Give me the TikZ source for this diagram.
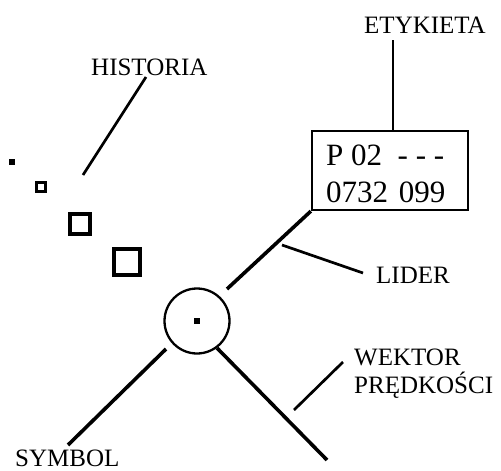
\documentclass[tikz,border=0pt]{standalone}
\usepackage{fontspec}
\setmainfont{Liberation Serif}
\begin{document}
\begin{tikzpicture}[x=1pt,y=-1pt,
  lbl/.style={font=\fontsize{25}{28}\selectfont, inner sep=0pt, anchor=base west},
  boxtxt/.style={font=\fontsize{31}{34}\selectfont, inner sep=0pt, anchor=base west},
  conn/.style={line width=3.6pt},
  ptr/.style={line width=2.7pt},
  hist/.style={draw, line width=3.2pt, inner sep=0pt, rectangle}]
\useasboundingbox (0,0) rectangle (501,471);
% labels
\node[lbl] (ety) at (364,33) {ETYKIETA};
\node[lbl] (his) at (91,75) {HISTORIA};
\node[lbl] (sym) at (15,466) {SYMBOL};
\node[lbl] (lid) at (376,283) {LIDER};
\node[lbl] (wek) at (354,365) {WEKTOR};
\node[lbl] (pre) at (354,393) {PRĘDKOŚCI};
% label box
\node[draw, line width=2.3pt, rectangle, minimum width=156pt, minimum height=79pt, inner sep=0pt] (box) at (390,170.5) {};
\node[boxtxt] (t1) at (326,165) {P 02\ \ - - -};
\node[boxtxt] (t2) at (326,202) {0732\hspace{3pt} 099};
% symbol
\node[draw, circle, line width=2.3pt, minimum size=65pt, inner sep=0pt] (circ) at (197,321) {};
\node[fill, rectangle, minimum size=6.5pt, inner sep=0pt] (dot) at (197,321) {};
% history squares
\node[fill, rectangle, minimum size=6.5pt, inner sep=0pt] (h1) at (12,162) {};
\node[hist, minimum size=9.5pt] (h2) at (41,187) {};
\node[hist, minimum size=20pt] (h3) at (80,224) {};
\node[hist, minimum size=26pt] (h4) at (127,262) {};
% coordinates
\coordinate (etyE) at (393,40);
\coordinate (boxT) at (393,131);
\coordinate (hisA) at (146,77);
\coordinate (hisB) at (83,175);
\coordinate (ldE) at (227,289);
\coordinate (lidA) at (282,245);
\coordinate (lidB) at (363,273);
\coordinate (velA) at (217,348);
\coordinate (velB) at (327,460);
\coordinate (symA) at (166,349);
\coordinate (symB) at (68,445);
\coordinate (wekA) at (343,362);
\coordinate (wekB) at (294,410);
% connectors
\draw[ptr] (etyE) -- (boxT);
\draw[ptr] (hisA) -- (hisB);
\draw[conn] (box.south west) -- (ldE);
\draw[ptr] (lidA) -- (lidB);
\draw[conn] (velA) -- (velB);
\draw[conn] (symA) -- (symB);
\draw[ptr] (wekA) -- (wekB);
\end{tikzpicture}
\end{document}
